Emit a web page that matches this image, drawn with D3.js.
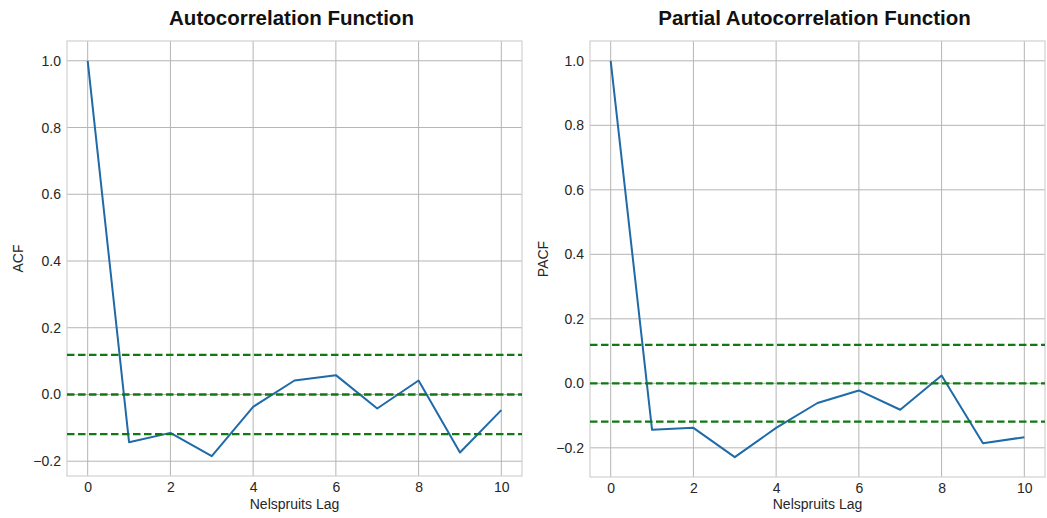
<!DOCTYPE html>
<html>
<head>
<meta charset="utf-8">
<script src="https://cdn.jsdelivr.net/npm/d3@7"></script>
<style>
  html, body { margin: 0; padding: 0; background: #ffffff; }
  svg text { font-family: "Liberation Sans", Arial, Helvetica, sans-serif; }
</style>
</head>
<body>
<svg id="chart" width="1047" height="518"></svg>
<script>
// Lags shown on both panels
const lags = [0, 1, 2, 3, 4, 5, 6, 7, 8, 9, 10];

// Autocorrelation values per lag
const acfValues = [1.0, -0.143, -0.115, -0.185, -0.037, 0.042, 0.058, -0.042, 0.042, -0.174, -0.047];

// Partial autocorrelation values per lag
const pacfValues = [1.0, -0.144, -0.138, -0.229, -0.138, -0.061, -0.022, -0.082, 0.024, -0.186, -0.167];

// Reference lines: zero and the approximate 95% confidence band
const confBand = 0.119;
const refLines = [confBand, 0, -confBand];

// Axis ticks
const xTicks = [0, 2, 4, 6, 8, 10];
const yTicks = [-0.2, 0.0, 0.2, 0.4, 0.6, 0.8, 1.0];

const panels = [
  { title: "Autocorrelation Function", ylabel: "ACF", values: acfValues,
    left: 67, right: 522, top: 41, bottom: 476, ylabelX: 18 },
  { title: "Partial Autocorrelation Function", ylabel: "PACF", values: pacfValues,
    left: 590, right: 1045, top: 41, bottom: 477, ylabelX: 543 }
];

const svg = d3.select("#chart");
const fmt = d3.format(".1f");

panels.forEach(p => {
  const x = d3.scaleLinear().domain([-0.5, 10.5]).range([p.left, p.right]);
  const lo = d3.min(p.values), hi = d3.max(p.values);
  const pad = (hi - lo) * 0.05;
  const y = d3.scaleLinear().domain([lo - pad, hi + pad]).range([p.bottom, p.top]);

  const g = svg.append("g");

  // plot background
  g.append("rect")
    .attr("x", p.left).attr("y", p.top)
    .attr("width", p.right - p.left).attr("height", p.bottom - p.top)
    .attr("fill", "#ffffff");

  // grid
  g.append("g").selectAll("line").data(xTicks).join("line")
    .attr("x1", d => x(d)).attr("x2", d => x(d))
    .attr("y1", p.top).attr("y2", p.bottom)
    .attr("stroke", "#b5b5b5").attr("stroke-width", 1);
  g.append("g").selectAll("line").data(yTicks).join("line")
    .attr("x1", p.left).attr("x2", p.right)
    .attr("y1", d => y(d)).attr("y2", d => y(d))
    .attr("stroke", "#b5b5b5").attr("stroke-width", 1);

  // frame
  g.append("rect")
    .attr("x", p.left).attr("y", p.top)
    .attr("width", p.right - p.left).attr("height", p.bottom - p.top)
    .attr("fill", "none").attr("stroke", "#d0d0d0").attr("stroke-width", 1.2);

  // axes (labels only, no tick marks)
  const xAxis = d3.axisBottom(x).tickValues(xTicks).tickSize(0).tickPadding(6).tickFormat(d3.format("d"));
  const yAxis = d3.axisLeft(y).tickValues(yTicks).tickSize(0).tickPadding(6).tickFormat(fmt);

  const gx = g.append("g").attr("transform", `translate(0,${p.bottom})`).call(xAxis);
  const gy = g.append("g").attr("transform", `translate(${p.left},0)`).call(yAxis);
  [gx, gy].forEach(a => {
    a.select(".domain").remove();
    a.selectAll("text").attr("font-size", 14).attr("fill", "#262626")
      .style("font-family", '"Liberation Sans", Arial, sans-serif');
  });

  // series
  const line = d3.line().x((d, i) => x(lags[i])).y(d => y(d));
  g.append("path")
    .datum(p.values)
    .attr("d", line)
    .attr("fill", "none")
    .attr("stroke", "#1f6aa8")
    .attr("stroke-width", 2)
    .attr("stroke-linejoin", "round");

  // reference lines
  g.append("g").selectAll("line").data(refLines).join("line")
    .attr("x1", p.left).attr("x2", p.right)
    .attr("y1", d => y(d)).attr("y2", d => y(d))
    .attr("stroke", "#0f7a12").attr("stroke-width", 2.3)
    .attr("stroke-dasharray", "7.5,3.5");

  // title
  g.append("text")
    .attr("x", (p.left + p.right) / 2 - 3).attr("y", 25)
    .attr("text-anchor", "middle")
    .attr("font-size", 20.5).attr("font-weight", "bold").attr("fill", "#111111")
    .text(p.title);

  // axis titles
  g.append("text")
    .attr("x", (p.left + p.right) / 2).attr("y", 509)
    .attr("text-anchor", "middle")
    .attr("font-size", 14).attr("fill", "#262626")
    .text("Nelspruits Lag");

  g.append("text")
    .attr("transform", `translate(${p.ylabelX + 5},${(p.top + p.bottom) / 2}) rotate(-90)`)
    .attr("text-anchor", "middle")
    .attr("font-size", 14).attr("fill", "#262626")
    .text(p.ylabel);
});
</script>
</body>
</html>
